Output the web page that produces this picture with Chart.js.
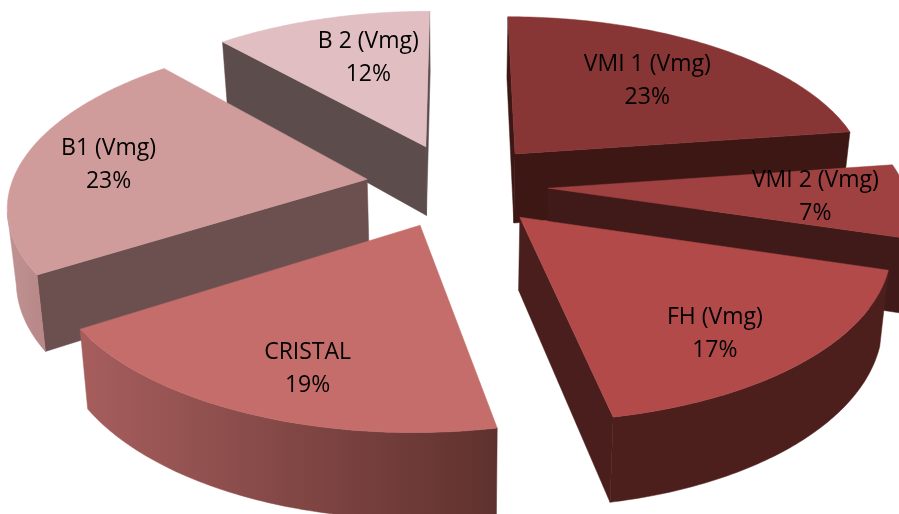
<!DOCTYPE html>
<html>
<head>
<meta charset="utf-8">
<script src="https://cdn.jsdelivr.net/npm/chart.js@4"></script>
<style>
  body { margin: 0; background: #fff; }
</style>
</head>
<body>
<canvas id="myChart" width="899" height="514"></canvas>
<script>
'use strict';

const categories = ['VMI 1 (Vmg)', 'VMI 2 (Vmg)', 'FH (Vmg)', 'CRISTAL', 'B1 (Vmg)', 'B 2 (Vmg)'];
// unrounded shares, the labels show them rounded
const shares = [22.7, 7.0, 17.2, 19.0, 22.6, 11.5];

const topColors = ['#883535', '#9f4141', '#b24a4a', '#c46d6b', '#d09c9b', '#e0bec2'];
const cutColors = ['#3c1714', '#401a18', '#491e1c', '#61332f', '#6c5050', '#5c4c4b'];
const wallLight = ['#3c1714', '#401a18', '#4c1f1d', '#a65e5d', '#c09392', '#c9aaad'];
const wallDark = ['#3c1714', '#401a18', '#4c1f1d', '#5f312e', '#b88988', '#c9aaad'];
const labelRadius = [0.64, 0.74, 0.75, 0.76, 0.74, 0.68];
const labelDx = [0, 1, -11, 14, -4, 16];
const labelDy = [-2, 0, 12, 6, 3, 2];

// perspective view of the exploded pie, fitted by eye to the picture
const centerX = 457;
const centerY = 185;
const scaleX = 356;
const scaleY = 165;
const viewDist = 7;
const explode = 0.256;
const depth = 71;
const wallTaper = 0.98;

function project(u, v) {
  const s = viewDist / (viewDist - v);
  return { x: centerX + scaleX * u * s, y: centerY + scaleY * v * s, s: s };
}

function fillPoly(ctx, pts, color) {
  ctx.beginPath();
  pts.forEach((p, i) => (i ? ctx.lineTo(p.x, p.y) : ctx.moveTo(p.x, p.y)));
  ctx.closePath();
  ctx.fillStyle = color;
  ctx.strokeStyle = color;
  ctx.lineWidth = 0.5;
  ctx.fill();
  ctx.stroke();
}

// vertical edges lean in a little towards the middle as they go down
function below(p) {
  return { x: centerX + (p.x - centerX) * wallTaper, y: p.y + depth * p.s };
}

function drawCut(ctx, a, b, color) {
  // only walls whose top edge runs leftwards face the viewer
  if (b.x < a.x) {
    fillPoly(ctx, [a, b, below(b), below(a)], color);
  }
}

function drawSlice(ctx, el, i) {
  const mid = (el.startAngle + el.endAngle) / 2;
  const u0 = Math.cos(mid) * explode;
  const v0 = Math.sin(mid) * explode;
  const apex = project(u0, v0);
  const arc = [];
  const steps = 80;
  for (let k = 0; k <= steps; k++) {
    const t = el.startAngle + (el.endAngle - el.startAngle) * k / steps;
    arc.push(project(u0 + Math.cos(t), v0 + Math.sin(t)));
  }

  drawCut(ctx, apex, arc[0], cutColors[i]);
  drawCut(ctx, arc[steps], apex, cutColors[i]);

  // outer curved wall, the part that turns towards the viewer
  const run = arc.filter((p, k) => k < steps ? arc[k + 1].x < p.x : arc[k - 1].x > p.x);
  if (run.length > 1) {
    const grad = ctx.createLinearGradient(run[run.length - 1].x, 0, run[0].x, 0);
    grad.addColorStop(0, wallLight[i]);
    grad.addColorStop(1, wallDark[i]);
    fillPoly(ctx, run.concat(run.map(below).reverse()), grad);
  }

  fillPoly(ctx, [apex].concat(arc), el.options.backgroundColor);
}

function drawLabel(ctx, el, i) {
  const mid = (el.startAngle + el.endAngle) / 2;
  const r = explode + labelRadius[i];
  const p = project(Math.cos(mid) * r, Math.sin(mid) * r);
  const x = p.x + labelDx[i];
  const y = p.y + labelDy[i];
  ctx.fillStyle = '#000';
  ctx.font = '23px "Open Sans"';
  ctx.textAlign = 'center';
  ctx.textBaseline = 'middle';
  ctx.fillText(categories[i], x, y - 17);
  ctx.fillText(Math.round(shares[i]) + '%', x, y + 16);
}

const pie3d = {
  id: 'pie3d',
  beforeDatasetsDraw(chart) {
    const ctx = chart.ctx;
    const arcs = chart.getDatasetMeta(0).data;
    const order = arcs.map((el, i) => i).sort((a, b) => {
      const ma = (arcs[a].startAngle + arcs[a].endAngle) / 2;
      const mb = (arcs[b].startAngle + arcs[b].endAngle) / 2;
      return Math.sin(ma) - Math.sin(mb);
    });
    order.forEach(i => drawSlice(ctx, arcs[i], i));
    arcs.forEach((el, i) => drawLabel(ctx, el, i));
    return false;
  }
};

new Chart(document.getElementById('myChart'), {
  type: 'pie',
  data: {
    labels: categories,
    datasets: [{ data: shares, backgroundColor: topColors, borderWidth: 0 }]
  },
  options: {
    responsive: false,
    animation: false,
    events: [],
    rotation: 0,
    plugins: { legend: { display: false }, tooltip: { enabled: false } }
  },
  plugins: [pie3d]
});
</script>
</body>
</html>
